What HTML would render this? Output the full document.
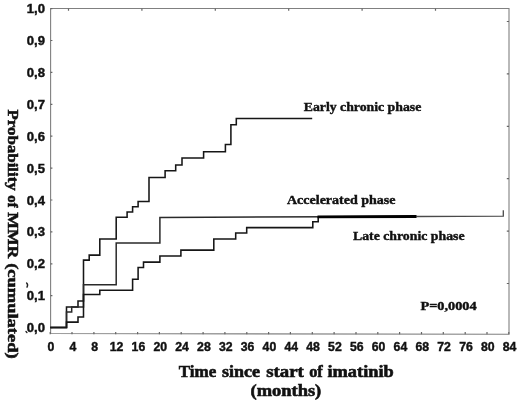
<!DOCTYPE html>
<html><head><meta charset="utf-8"><title>Probability of MMR</title>
<style>html,body{margin:0;padding:0;background:#fff}svg{display:block;filter:blur(0.35px)}</style></head>
<body>
<svg width="520" height="403" viewBox="0 0 520 403">
<rect width="520" height="403" fill="#fff"/>
<path d="M50.6 8.5 H509 V334.3 L50.6 333.5 Z" fill="none" stroke="#808080" stroke-width="1.1"/>
<path d="M50.2 334.3 v-2.2 M72.0 334.3 v-2.2 M93.9 334.3 v-2.2 M115.7 334.3 v-2.2 M137.6 334.3 v-2.2 M159.4 334.3 v-2.2 M181.2 334.3 v-2.2 M203.1 334.3 v-2.2 M224.9 334.3 v-2.2 M246.8 334.3 v-2.2 M268.6 334.3 v-2.2 M290.4 334.3 v-2.2 M312.3 334.3 v-2.2 M334.1 334.3 v-2.2 M356.0 334.3 v-2.2 M377.8 334.3 v-2.2 M399.6 334.3 v-2.2 M421.5 334.3 v-2.2 M443.3 334.3 v-2.2 M465.2 334.3 v-2.2 M487.0 334.3 v-2.2 M508.8 334.3 v-2.2 M50.6 327.6 h1.8 M50.6 295.7 h1.8 M50.6 263.8 h1.8 M50.6 231.9 h1.8 M50.6 200.0 h1.8 M50.6 168.1 h1.8 M50.6 136.2 h1.8 M50.6 104.3 h1.8 M50.6 72.4 h1.8 M50.6 40.5 h1.8 M50.6 8.6 h1.8 M68.5 8.5 v2.2 M141.9 8.5 v2.2 M215.3 8.5 v2.2 M288.7 8.5 v2.2 M362.1 8.5 v2.2 M435.5 8.5 v2.2 M509 21.5 h-2.2 M509 73.9 h-2.2 M509 126.3 h-2.2 M509 178.7 h-2.2 M509 231.1 h-2.2 M509 283.5 h-2.2" stroke="#666" stroke-width="1.2" fill="none"/>
<g font-family="'Liberation Sans',Arial,sans-serif" font-weight="bold" font-size="11.9" fill="#111" stroke="#111" stroke-width="0.4">
<text transform="translate(45,332.1) scale(1.1,1)" text-anchor="end">0,0</text>
<text transform="translate(45,300.2) scale(1.1,1)" text-anchor="end">0,1</text>
<text transform="translate(45,268.3) scale(1.1,1)" text-anchor="end">0,2</text>
<text transform="translate(45,236.4) scale(1.1,1)" text-anchor="end">0,3</text>
<text transform="translate(45,204.5) scale(1.1,1)" text-anchor="end">0,4</text>
<text transform="translate(45,172.6) scale(1.1,1)" text-anchor="end">0,5</text>
<text transform="translate(45,140.7) scale(1.1,1)" text-anchor="end">0,6</text>
<text transform="translate(45,108.8) scale(1.1,1)" text-anchor="end">0,7</text>
<text transform="translate(45,76.9) scale(1.1,1)" text-anchor="end">0,8</text>
<text transform="translate(45,45.0) scale(1.1,1)" text-anchor="end">0,9</text>
<text transform="translate(45,13.1) scale(1.1,1)" text-anchor="end">1,0</text>
<text transform="translate(51.0,351.3) scale(1.03,1)" text-anchor="middle">0</text>
<text transform="translate(72.8,351.3) scale(1.03,1)" text-anchor="middle">4</text>
<text transform="translate(94.7,351.3) scale(1.03,1)" text-anchor="middle">8</text>
<text transform="translate(116.5,351.3) scale(1.03,1)" text-anchor="middle">12</text>
<text transform="translate(138.4,351.3) scale(1.03,1)" text-anchor="middle">16</text>
<text transform="translate(160.2,351.3) scale(1.03,1)" text-anchor="middle">20</text>
<text transform="translate(182.0,351.3) scale(1.03,1)" text-anchor="middle">24</text>
<text transform="translate(203.9,351.3) scale(1.03,1)" text-anchor="middle">28</text>
<text transform="translate(225.7,351.3) scale(1.03,1)" text-anchor="middle">32</text>
<text transform="translate(247.6,351.3) scale(1.03,1)" text-anchor="middle">36</text>
<text transform="translate(269.4,351.3) scale(1.03,1)" text-anchor="middle">40</text>
<text transform="translate(291.2,351.3) scale(1.03,1)" text-anchor="middle">44</text>
<text transform="translate(313.1,351.3) scale(1.03,1)" text-anchor="middle">48</text>
<text transform="translate(334.9,351.3) scale(1.03,1)" text-anchor="middle">52</text>
<text transform="translate(356.8,351.3) scale(1.03,1)" text-anchor="middle">56</text>
<text transform="translate(378.6,351.3) scale(1.03,1)" text-anchor="middle">60</text>
<text transform="translate(400.4,351.3) scale(1.03,1)" text-anchor="middle">64</text>
<text transform="translate(422.3,351.3) scale(1.03,1)" text-anchor="middle">68</text>
<text transform="translate(444.1,351.3) scale(1.03,1)" text-anchor="middle">72</text>
<text transform="translate(466.0,351.3) scale(1.03,1)" text-anchor="middle">76</text>
<text transform="translate(487.8,351.3) scale(1.03,1)" text-anchor="middle">80</text>
<text transform="translate(509.6,351.3) scale(1.03,1)" text-anchor="middle">84</text>
</g>
<path d="M26.6 283 q1.8 1.6 0.4 4.2 M26 331.6 l0.9 0.9" stroke="#222" stroke-width="1.4" fill="none" stroke-linecap="round"/>
<g fill="none" stroke="#161616" stroke-width="1.55" stroke-linejoin="miter">
<path d="M50.2 327.4 H66.5 V306.9 H78.0 V300.9 H83.5 V260.1 H89.2 V255.1 H99.8 V239.0 H116.2 V217.2 H127.1 V212.0 H132.6 V206.8 H138.1 V201.4 H149.0 V177.4 H165.1 V170.8 H175.7 V164.9 H182.0 V158.0 H203.6 V151.8 H225.4 V144.4 H230.9 V124.8 H236.3 V118.5 H312.2"/>
<path d="M50.2 327.4 H66.5 V311.9 H71.7 V306.9 H83.5 V284.8 H116.2 V242.9 H159.9 V217.4 L416.5 216.5" stroke="#2a2a2a" stroke-width="1.5"/>
<path d="M416.5 216.5 L503.3 216.1 V210.3" stroke="#4a4a4a" stroke-width="1.3"/>
<path d="M50.2 327.4 H66.5 V322.1 H78.0 V316.9 H83.5 V294.5 H99.8 V290.2 H132.6 V279.2 H138.1 V267.4 H143.5 V262.1 H159.9 V256.0 H180.9 V250.1 H213.8 V239.0 H235.7 V232.9 H246.7 V227.6 H312.8 V221.7 H318.2 V216.9"/>
<path d="M317.5 216.9 L416.5 216.5" stroke-width="2.8" stroke="#000"/>
</g>
<g font-family="'Liberation Serif','Times New Roman',serif" font-weight="bold" fill="#111" stroke="#111" stroke-width="0.4">
<text id="lab1" x="303.75" y="111.2" font-size="12.6" textLength="117.5" lengthAdjust="spacingAndGlyphs">Early chronic phase</text>
<text id="lab2" x="287" y="204" font-size="12.6" textLength="108.5" lengthAdjust="spacingAndGlyphs">Accelerated phase</text>
<text id="lab3" x="353" y="240" font-size="12.6" textLength="111.5" lengthAdjust="spacingAndGlyphs">Late chronic phase</text>
<text id="pv" x="420.4" y="309.8" font-size="12" textLength="56.3" lengthAdjust="spacingAndGlyphs">P=0,0004</text>
<text x="178.75" y="377" font-size="17" stroke-width="0.6" textLength="37.50" lengthAdjust="spacingAndGlyphs">Time</text>
<text x="222.00" y="377" font-size="17" stroke-width="0.6" textLength="38.00" lengthAdjust="spacingAndGlyphs">since</text>
<text x="266.25" y="377" font-size="17" stroke-width="0.6" textLength="37.50" lengthAdjust="spacingAndGlyphs">start</text>
<text x="309.20" y="377" font-size="17" stroke-width="0.6" textLength="13.60" lengthAdjust="spacingAndGlyphs">of</text>
<text x="327.50" y="377" font-size="17" stroke-width="0.6" textLength="66.25" lengthAdjust="spacingAndGlyphs">imatinib</text>
<text id="xt2" x="250.5" y="396" font-size="17" stroke-width="0.6" textLength="70.75" lengthAdjust="spacingAndGlyphs">(months)</text>
<g transform="translate(7.6,0) rotate(90)">
<text x="109.50" y="0" font-size="15.3" stroke-width="0.55" textLength="81.30" lengthAdjust="spacingAndGlyphs">Probability</text>
<text x="195.30" y="0" font-size="15.3" stroke-width="0.55" textLength="12.30" lengthAdjust="spacingAndGlyphs">of</text>
<text x="212.25" y="0" font-size="15.3" stroke-width="0.55" textLength="46.15" lengthAdjust="spacingAndGlyphs">MMR</text>
<text x="263.20" y="0" font-size="15.3" stroke-width="0.55" textLength="95.40" lengthAdjust="spacingAndGlyphs">(cumulated)</text>
</g>
</g>
</svg>
</body></html>
